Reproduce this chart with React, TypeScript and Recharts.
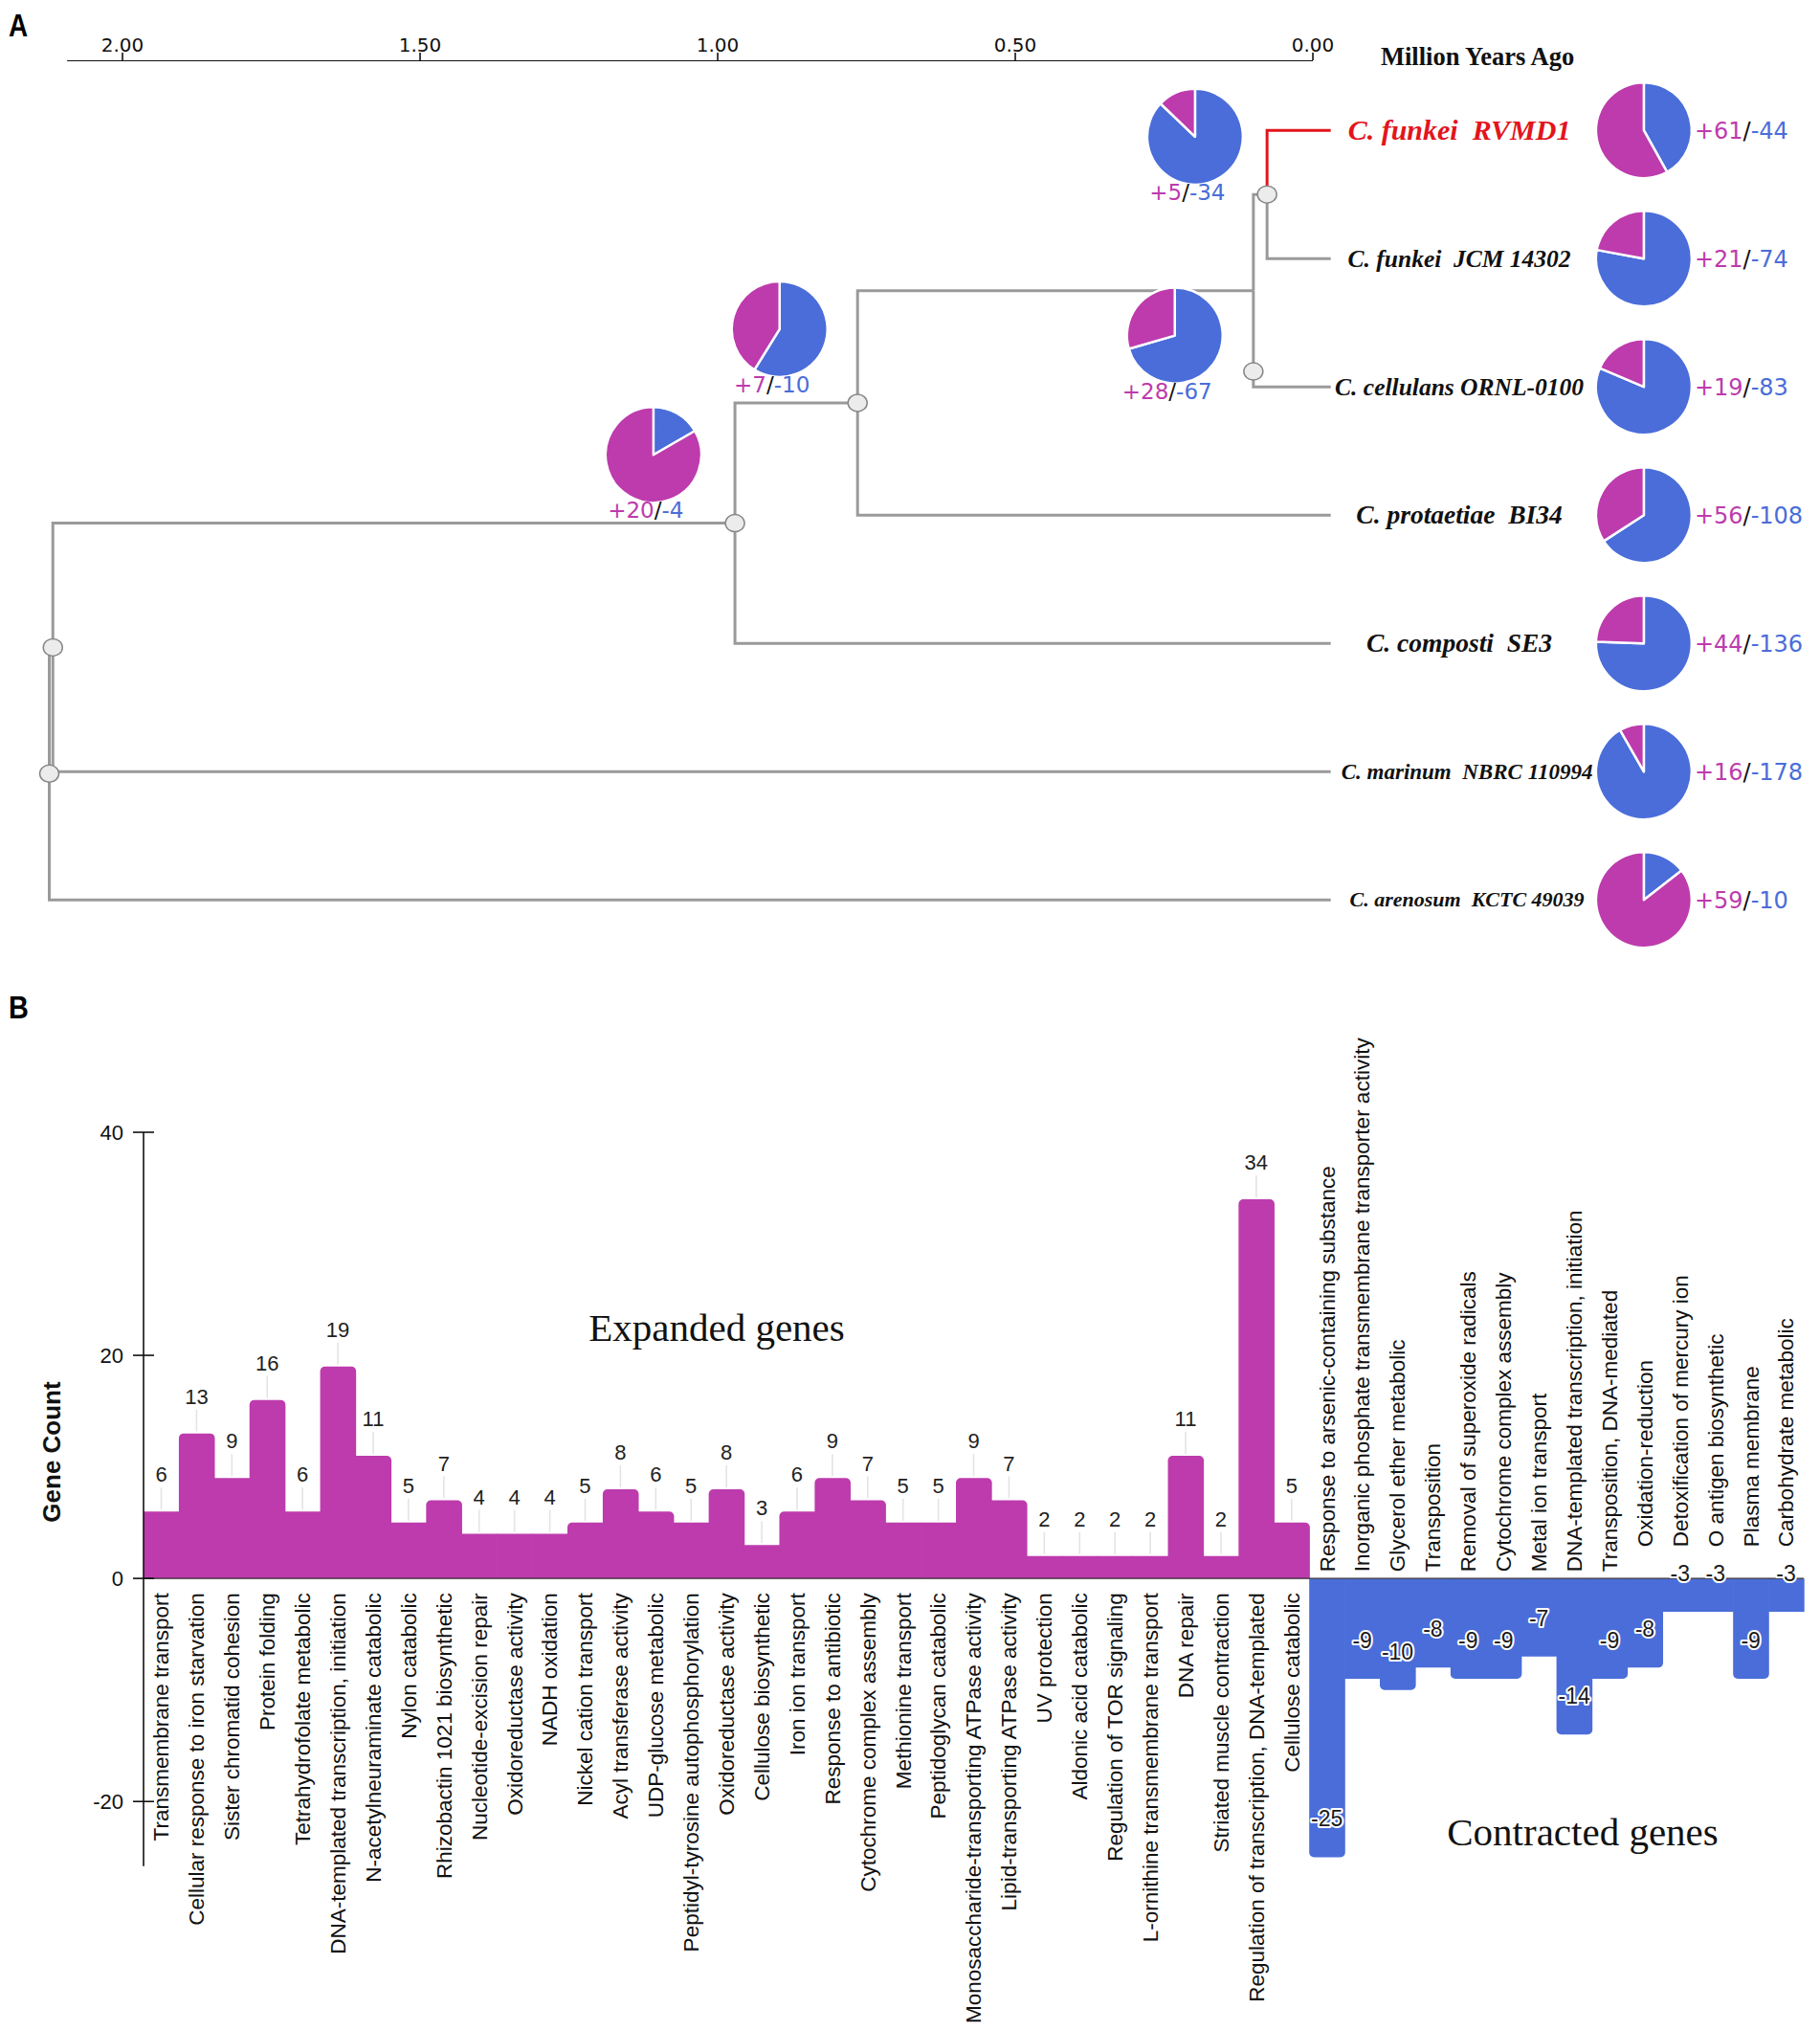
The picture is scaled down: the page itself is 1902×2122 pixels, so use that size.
import React from "react";
import {
  ScatterChart,
  Scatter,
  XAxis,
  YAxis,
  BarChart,
  Bar,
  LabelList,
  ReferenceLine,
  Rectangle,
} from "recharts";

const EXP = "#BD3BAD";
const CON = "#4A6DD9";
const BRANCH = "#9a9a9a";

// ---------- Panel A: dated tree ----------
const timeTicks = [2, 1.5, 1, 0.5, 0];
const leafNames = [
  "C. funkei  RVMD1",
  "C. funkei  JCM 14302",
  "C. cellulans ORNL-0100",
  "C. protaetiae  BI34",
  "C. composti  SE3",
  "C. marinum  NBRC 110994",
  "C. arenosum  KCTC 49039",
];
const leafGain = [61, 21, 19, 56, 44, 16, 59];
const leafLoss = [44, 74, 83, 108, 136, 178, 10];

const nodeIds = ["n5", "n4", "n3", "n2", "n1", "root"];
const nodeChildren = [
  ["L0", "L1"],
  ["n5", "L2"],
  ["n4", "L3"],
  ["n3", "L4"],
  ["n2", "L5"],
  ["n1", "L6"],
];
const nodeAge = [0.077, 0.1, 0.765, 0.971, 2.117, 2.123];
const markerRow = [null, 1.88, null, null, null, null];

const innerGain = [5, 28, 7, 20];
const innerLoss = [34, 67, 10, 4];
const innerAge = [0.198, 0.232, 0.896, 1.108];
const innerRow = [0.05, 1.6, 1.55, 2.53];

const TIP_AGE = -0.03;
const LEAF_LABEL_AGE = -0.246;
const LEAF_PIE_AGE = -0.556;
const AXIS_START = 2.093;
const X_DOMAIN = [-0.852, 2.2058];
const Y_DOMAIN = [-0.546, 6.446];

// ---------- Panel B: gene families ----------
const goTerms = [
  "Transmembrane transport",
  "Cellular response to iron starvation",
  "Sister chromatid cohesion",
  "Protein folding",
  "Tetrahydrofolate metabolic",
  "DNA-templated transcription, initiation",
  "N-acetylneuraminate catabolic",
  "Nylon catabolic",
  "Rhizobactin 1021 biosynthetic",
  "Nucleotide-excision repair",
  "Oxidoreductase activity",
  "NADH oxidation",
  "Nickel cation transport",
  "Acyl transferase activity",
  "UDP-glucose metabolic",
  "Peptidyl-tyrosine autophosphorylation",
  "Oxidoreductase activity",
  "Cellulose biosynthetic",
  "Iron ion transport",
  "Response to antibiotic",
  "Cytochrome complex assembly",
  "Methionine transport",
  "Peptidoglycan catabolic",
  "Monosaccharide-transporting ATPase activity",
  "Lipid-transporting ATPase activity",
  "UV protection",
  "Aldonic acid catabolic",
  "Regulation of TOR signaling",
  "L-ornithine transmembrane transport",
  "DNA repair",
  "Striated muscle contraction",
  "Regulation of transcription, DNA-templated",
  "Cellulose catabolic",
  "Response to arsenic-containing substance",
  "Inorganic phosphate transmembrane transporter activity",
  "Glycerol ether metabolic",
  "Transposition",
  "Removal of superoxide radicals",
  "Cytochrome complex assembly",
  "Metal ion transport",
  "DNA-templated transcription, initiation",
  "Transposition, DNA-mediated",
  "Oxidation-reduction",
  "Detoxification of mercury ion",
  "O antigen biosynthetic",
  "Plasma membrane",
  "Carbohydrate metabolic",
];
const geneCounts = [
  6, 13, 9, 16, 6, 19, 11, 5, 7, 4, 4, 4, 5, 8, 6, 5, 8, 3, 6, 9, 7, 5, 5, 9, 7,
  2, 2, 2, 2, 11, 2, 34, 5, -25, -9, -10, -8, -9, -9, -7, -14, -9, -8, -3, -3,
  -9, -3,
];
const countTicks = [40, 20, 0, -20];

// ---------- tree layout ----------
const rowOf: Record<string, number> = {};
const ageOf: Record<string, number> = {};
leafNames.forEach((_, i) => {
  rowOf["L" + i] = i;
  ageOf["L" + i] = TIP_AGE;
});
nodeIds.forEach((id, i) => {
  const [a, b] = nodeChildren[i];
  rowOf[id] = (rowOf[a] + rowOf[b]) / 2;
  ageOf[id] = nodeAge[i];
});

const branches: { id: string; red: boolean; pts: { x: number; y: number }[] }[] = [];
nodeIds.forEach((id, i) => {
  nodeChildren[i].forEach((c) => {
    branches.push({
      id: c,
      red: c === "L0",
      pts: [
        { x: ageOf[id], y: rowOf[id] },
        { x: ageOf[id], y: rowOf[c] },
        { x: ageOf[c], y: rowOf[c] },
      ],
    });
  });
});

const axisPts = [
  { x: AXIS_START, y: Y_DOMAIN[0] },
  { x: 0, y: Y_DOMAIN[0] },
];

const markers = nodeIds.map((id, i) => ({
  x: ageOf[id],
  y: markerRow[i] ?? rowOf[id],
}));

const leafPies = leafNames.map((_, i) => ({
  x: LEAF_PIE_AGE,
  y: i,
  gain: leafGain[i],
  loss: leafLoss[i],
  side: "right",
}));
const innerPies = innerGain.map((g, i) => ({
  x: innerAge[i],
  y: innerRow[i],
  gain: g,
  loss: innerLoss[i],
  side: "below",
}));
const leafLabels = leafNames.map((name, i) => ({ x: LEAF_LABEL_AGE, y: i, name, i }));

const wedge = (cx: number, cy: number, r: number, a0: number, a1: number) => {
  const p = (a: number) => [cx + r * Math.sin(a * Math.PI * 2), cy - r * Math.cos(a * Math.PI * 2)];
  const [x0, y0] = p(a0);
  const [x1, y1] = p(a1);
  const large = a1 - a0 > 0.5 ? 1 : 0;
  return `M${cx},${cy}L${x0},${y0}A${r},${r} 0 ${large} 1 ${x1},${y1}Z`;
};

const NoDot = () => <g />;

const PieMark = (props: any) => {
  const { cx, cy, payload } = props;
  const { gain, loss, side } = payload;
  const r = 50;
  const b = loss / (gain + loss);
  const lx = side === "right" ? cx + 53 : cx - 8;
  const ly = side === "right" ? cy + 9 : cy + 66;
  return (
    <g>
      <path d={wedge(cx, cy, r, 0, b)} fill={CON} stroke="#fff" strokeWidth={2.5} strokeLinejoin="round" />
      <path d={wedge(cx, cy, r, b, 1)} fill={EXP} stroke="#fff" strokeWidth={2.5} strokeLinejoin="round" />
      <text
        x={lx}
        y={ly}
        textAnchor={side === "right" ? "start" : "middle"}
        fontFamily="DejaVu Sans"
        fontSize={side === "right" ? 24 : 23}
      >
        <tspan fill={EXP}>+{gain}</tspan>
        <tspan fill="#111">/</tspan>
        <tspan fill={CON}>-{loss}</tspan>
      </text>
    </g>
  );
};

const NodeMark = (props: any) => (
  <ellipse cx={props.cx} cy={props.cy} rx={10} ry={9} fill="#ececec" stroke="#878787" strokeWidth={1.5} />
);

const leafFont = [30, 25.5, 25.5, 27.5, 27.5, 23, 22];

const LeafLabel = (props: any) => {
  const { cx, cy, payload } = props;
  const size = leafFont[payload.i];
  const shift = payload.i >= 5 ? 8 : 0;
  return (
    <text
      x={cx + shift}
      y={cy + size * 0.33}
      textAnchor="middle"
      fontFamily="Liberation Serif"
      fontWeight="bold"
      fontStyle="italic"
      fontSize={size}
      fill={payload.i === 0 ? "#e3141c" : "#111"}
      xmlSpace="preserve"
      style={{ whiteSpace: "pre" }}
    >
      {payload.name}
    </text>
  );
};

const TreePanel = () => (
  <ScatterChart width={1902} height={1000} margin={{ top: 33, right: 0, left: 0, bottom: 0 }}>
    <XAxis
      type="number"
      dataKey="x"
      orientation="top"
      domain={X_DOMAIN}
      reversed
      allowDataOverflow
      ticks={timeTicks}
      interval={0}
      tickFormatter={(v: number) => v.toFixed(2)}
      axisLine={false}
      tickLine={{ stroke: "#111", strokeWidth: 1.6 }}
      tickSize={8}
      tickMargin={1}
      height={30}
      tick={{ fontSize: 20, fill: "#111", fontFamily: "DejaVu Sans" }}
    />
    <YAxis type="number" dataKey="y" domain={Y_DOMAIN} reversed allowDataOverflow hide />
    <Scatter
      data={axisPts}
      line={{ stroke: "#111", strokeWidth: 2.2 }}
      lineType="joint"
      shape={NoDot}
      isAnimationActive={false}
    />
    {branches.map((b) => (
      <Scatter
        key={b.id}
        data={b.pts}
        line={{ stroke: b.red ? "#e3141c" : BRANCH, strokeWidth: 3 }}
        lineType="joint"
        shape={NoDot}
        isAnimationActive={false}
      />
    ))}
    <Scatter data={markers} shape={NodeMark} isAnimationActive={false} />
    <Scatter data={innerPies} shape={PieMark} isAnimationActive={false} />
    <Scatter data={leafPies} shape={PieMark} isAnimationActive={false} />
    <Scatter data={leafLabels} shape={LeafLabel} isAnimationActive={false} />
  </ScatterChart>
);

// ---------- Panel B ----------
const barData = goTerms.map((name, i) => ({ key: `t${i}`, name, value: geneCounts[i] }));

const exposed = (v: number, n: number | null) =>
  n === null ? false : Math.sign(n) !== Math.sign(v) || Math.abs(n) < Math.abs(v);

const StepBar = (props: any) => {
  const { x, y, width, height, index } = props;
  const v = geneCounts[index];
  const prev = index > 0 ? geneCounts[index - 1] : null;
  const next = index < geneCounts.length - 1 ? geneCounts[index + 1] : null;
  const top = Math.min(y, y + height);
  const h = Math.abs(height);
  const r = 5;
  const l = exposed(v, prev) ? r : 0;
  const rr = exposed(v, next) ? r : 0;
  const radius: [number, number, number, number] = v > 0 ? [l, rr, 0, 0] : [0, 0, rr, l];
  return <Rectangle x={x} y={top} width={width + 0.6} height={h} radius={radius} fill={v > 0 ? EXP : CON} />;
};

const idxOf = (props: any) => Number(String(props.value).slice(1));
const boxOf = (props: any) => {
  const vb = props.viewBox && props.viewBox.width !== undefined ? props.viewBox : props;
  return vb;
};

const ValueLabel = (props: any) => {
  const i = idxOf(props);
  const v = geneCounts[i];
  const { x, y, width, height } = boxOf(props);
  const cx = x + width / 2;
  const top = Math.min(y, y + height);
  const bottom = Math.max(y, y + height);
  if (v > 0) {
    return (
      <g>
        <line x1={cx} x2={cx} y1={top - 2} y2={top - 25} stroke="#e4e4e4" strokeWidth={1.6} />
        <text x={cx} y={top - 31} textAnchor="middle" fontFamily="Liberation Sans" fontSize={22} fill="#222">
          {v}
        </text>
      </g>
    );
  }
  return (
    <text
      x={cx}
      y={bottom - 32}
      textAnchor="middle"
      fontFamily="Liberation Sans"
      fontSize={23}
      fill="#1b1b1b"
      stroke="#fff"
      strokeWidth={4}
      paintOrder="stroke"
      strokeLinejoin="round"
    >
      {v}
    </text>
  );
};

const TermLabel = (props: any) => {
  const i = idxOf(props);
  const v = geneCounts[i];
  const { x, y, width, height } = boxOf(props);
  const cx = x + width / 2;
  const zero = v > 0 ? Math.max(y, y + height) : Math.min(y, y + height);
  const ty = v > 0 ? zero + 15 : zero - 7 - (i >= 42 ? 26 : 0);
  return (
    <text
      x={cx}
      y={ty}
      dy="0.35em"
      transform={`rotate(-90 ${cx} ${ty})`}
      textAnchor={v > 0 ? "end" : "start"}
      fontFamily="Liberation Sans"
      fontSize={22.5}
      fill="#111"
    >
      {goTerms[i]}
    </text>
  );
};

const CountTick = (props: any) => {
  const { x, y, payload } = props;
  return (
    <g>
      <line x1={x - 11} x2={x + 11} y1={y} y2={y} stroke="#111" strokeWidth={1.6} />
      <text x={x - 21} y={y} dy="0.35em" textAnchor="end" fontFamily="Liberation Sans" fontSize={22} fill="#111">
        {payload.value}
      </text>
    </g>
  );
};

const CountPanel = () => (
  <BarChart
    width={1902}
    height={1122}
    data={barData}
    margin={{ top: 178, right: 17, left: 90, bottom: 177.2 }}
    barCategoryGap={0}
    barGap={0}
  >
    <XAxis dataKey="key" hide />
    <YAxis
      type="number"
      domain={[-25.8, 40]}
      allowDataOverflow
      ticks={countTicks}
      interval={0}
      width={60}
      tickSize={0}
      tickMargin={0}
      tickLine={false}
      axisLine={{ stroke: "#111", strokeWidth: 1.6 }}
      tick={CountTick}
    />
    <ReferenceLine y={0} stroke="#333" strokeWidth={1.2} />
    <Bar dataKey="value" shape={StepBar} isAnimationActive={false}>
      <LabelList dataKey="key" content={ValueLabel} />
      <LabelList dataKey="key" content={TermLabel} />
    </Bar>
  </BarChart>
);

export default function App() {
  return (
    <div style={{ position: "absolute", left: 0, top: 0, width: 1902, height: 2122, background: "#fff" }}>
      <div style={{ position: "absolute", left: 0, top: 0 }}>
        <TreePanel />
      </div>
      <div style={{ position: "absolute", left: 0, top: 1005 }}>
        <CountPanel />
      </div>
      <svg
        width={1902}
        height={2122}
        style={{ position: "absolute", left: 0, top: 0, pointerEvents: "none" }}
      >
        <text x={9} y={38} fontFamily="Liberation Sans" fontWeight="bold" fontSize={34} transform="translate(9 0) scale(0.82 1) translate(-9 0)">
          A
        </text>
        <text x={9} y={1064} fontFamily="Liberation Sans" fontWeight="bold" fontSize={34} transform="translate(9 0) scale(0.85 1) translate(-9 0)">
          B
        </text>
        <text x={1443} y={68} fontFamily="Liberation Serif" fontWeight="bold" fontSize={26.5} fill="#111">
          Million Years Ago
        </text>
        <text x={749} y={1401} textAnchor="middle" fontFamily="Liberation Serif" fontSize={41} fill="#111">
          Expanded genes
        </text>
        <text x={1654} y={1928} textAnchor="middle" fontFamily="Liberation Serif" fontSize={41} fill="#111">
          Contracted genes
        </text>
        <text
          x={54}
          y={1517}
          dy="0.35em"
          textAnchor="middle"
          transform="rotate(-90 54 1517)"
          fontFamily="Liberation Sans"
          fontWeight="bold"
          fontSize={26}
          fill="#111"
        >
          Gene Count
        </text>
      </svg>
    </div>
  );
}
